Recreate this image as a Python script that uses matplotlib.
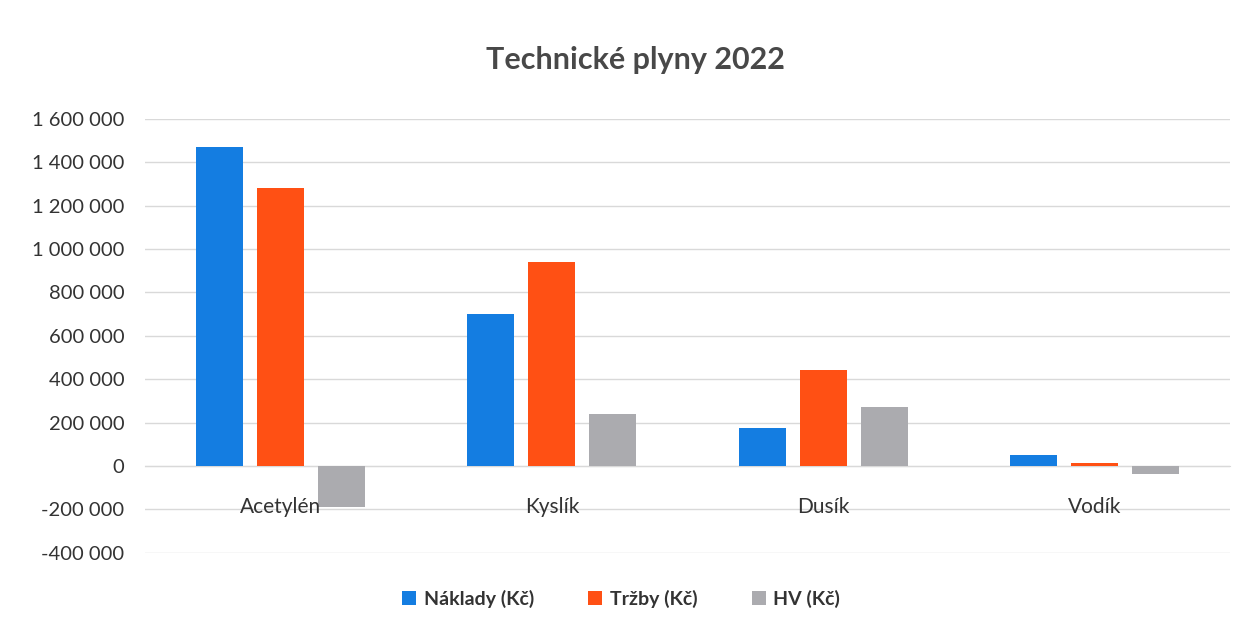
import numpy as np
import matplotlib.pyplot as plt
from matplotlib.ticker import FuncFormatter

# Data
categories = ['Acetylén', 'Kyslík', 'Dusík', 'Vodík']
naklady = [1470000, 700000, 175000, 50000]
trzby = [1280000, 940000, 445000, 14000]
hv = [-190000, 240000, 270000, -36000]
series_names = ['Náklady (Kč)', 'Tržby (Kč)', 'HV (Kč)']
colors = ['#147DE1', '#FF5014', '#ABABAF']

plt.rcParams['font.family'] = ['Lato', 'DejaVu Sans']

fig = plt.figure(figsize=(12.5, 6.29), dpi=100)
ax = fig.add_axes([0.116, 0.121, 0.868, 0.690])

x = np.arange(len(categories))
step = 0.225
width = 0.173
for i, (vals, name, col) in enumerate(zip([naklady, trzby, hv], series_names, colors)):
    ax.bar(x + (i - 1) * step, vals, width, color=col, label=name, zorder=3)

ax.set_xlim(-0.5, len(categories) - 0.5)
ax.set_ylim(-400000, 1600000)
ax.set_yticks(np.arange(-400000, 1600001, 200000))
ax.yaxis.set_major_formatter(FuncFormatter(lambda v, p: f'{int(v):,}'.replace(',', ' ')))
ax.grid(axis='y', color='#D9D9D9', linewidth=1, zorder=0)

for s in ['top', 'right', 'left']:
    ax.spines[s].set_visible(False)
ax.spines['bottom'].set_position(('data', 0))
ax.spines['bottom'].set_color('#D9D9D9')
ax.spines['bottom'].set_zorder(1)
ax.xaxis.set_zorder(4)

ax.set_xticks(x)
ax.set_xticklabels(categories)
ax.tick_params(axis='x', length=0, pad=22, labelsize=15, labelcolor='#333333')
ax.tick_params(axis='y', length=0, pad=15, labelsize=14.5, labelcolor='#333333')

fig.text(0.508, 0.905, 'Technické plyny 2022', ha='center', va='center',
         fontsize=22, fontweight='bold', color='#484848')

leg = fig.legend(loc='center', bbox_to_anchor=(0.497, 0.048), ncol=3, frameon=False,
                 handlelength=0.7, handleheight=0.7, handletextpad=0.4, columnspacing=2.8,
                 prop={'size': 14, 'weight': 'bold'})
for t in leg.get_texts():
    t.set_color('#333333')

fig.savefig('out.png', dpi=100)
